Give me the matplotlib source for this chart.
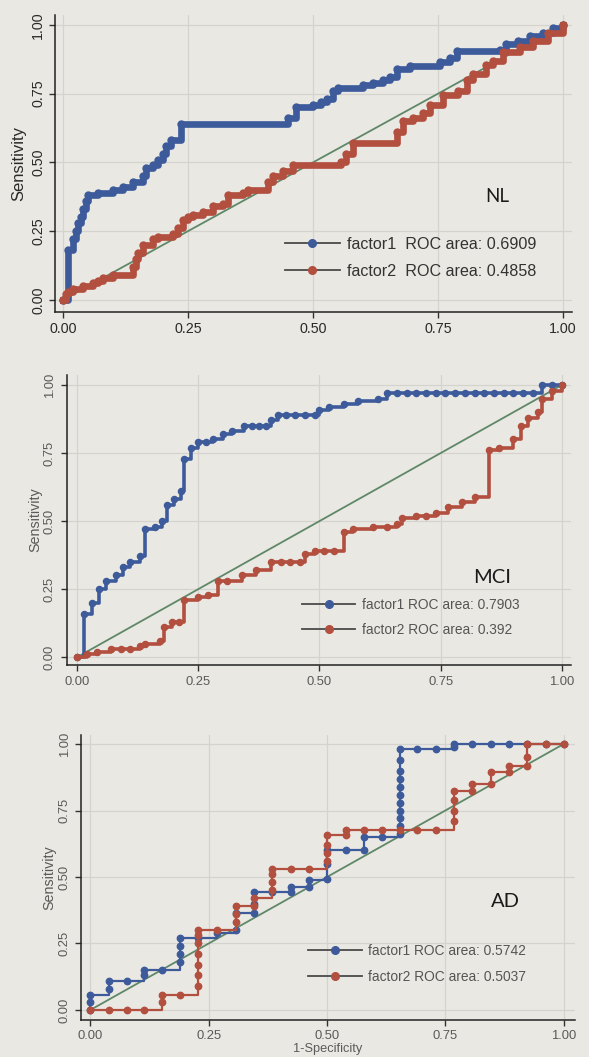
import matplotlib
matplotlib.use("Agg")
import matplotlib.pyplot as plt
from matplotlib.lines import Line2D

# ---------------- data ----------------
ticks = [0.0, 0.25, 0.5, 0.75, 1.0]
tick_labels = ["0.00", "0.25", "0.50", "0.75", "1.00"]

nl_f1_fpr = [0, 0.01, 0.02, 0.025, 0.03, 0.035, 0.04, 0.045, 0.05, 0.07, 0.10, 0.12, 0.14, 0.16, 0.165,
             0.18, 0.19, 0.20, 0.205, 0.215, 0.235, 0.45, 0.465, 0.50, 0.515, 0.527, 0.54, 0.55, 0.60,
             0.62, 0.64, 0.654, 0.667, 0.694, 0.754, 0.774, 0.787, 0.874, 0.887, 0.91, 0.934, 0.96, 0.98, 1.0]
nl_f1_tpr = [0, 0.18, 0.22, 0.25, 0.28, 0.30, 0.33, 0.36, 0.38, 0.39, 0.40, 0.41, 0.43, 0.45, 0.48,
             0.49, 0.51, 0.53, 0.56, 0.58, 0.64, 0.66, 0.70, 0.71, 0.72, 0.73, 0.76, 0.77, 0.78,
             0.79, 0.80, 0.81, 0.84, 0.85, 0.864, 0.88, 0.905, 0.91, 0.93, 0.94, 0.96, 0.97, 0.99, 1.0]

nl_f2_fpr = [0, 0.005, 0.01, 0.02, 0.04, 0.06, 0.07, 0.08, 0.10, 0.14, 0.145, 0.15, 0.16, 0.18, 0.19,
             0.22, 0.23, 0.24, 0.25, 0.26, 0.28, 0.30, 0.32, 0.33, 0.36, 0.37, 0.41, 0.42, 0.44, 0.46,
             0.555, 0.567, 0.58, 0.667, 0.68, 0.70, 0.72, 0.735, 0.76, 0.79, 0.807, 0.82, 0.847, 0.86,
             0.88, 0.913, 0.94, 0.97, 1.0]
nl_f2_tpr = [0, 0.02, 0.03, 0.04, 0.05, 0.06, 0.07, 0.08, 0.09, 0.12, 0.15, 0.17, 0.20, 0.22, 0.23,
             0.24, 0.26, 0.29, 0.30, 0.31, 0.32, 0.34, 0.35, 0.38, 0.39, 0.40, 0.43, 0.45, 0.47, 0.49,
             0.50, 0.53, 0.57, 0.61, 0.65, 0.66, 0.68, 0.71, 0.745, 0.76, 0.80, 0.82, 0.855, 0.87,
             0.90, 0.92, 0.94, 0.97, 1.0]

mci_f1_fpr = [0, 0.015, 0.03, 0.045, 0.06, 0.08, 0.095, 0.11, 0.13, 0.14, 0.16, 0.175, 0.185, 0.20,
              0.215, 0.22, 0.235, 0.25, 0.265, 0.28, 0.30, 0.32, 0.345, 0.36, 0.375, 0.39, 0.40, 0.415,
              0.43, 0.45, 0.47, 0.49, 0.50, 0.52, 0.55, 0.58, 0.62, 0.64, 0.66, 0.68, 0.70, 0.72,
              0.74, 0.76, 0.78, 0.80, 0.82, 0.84, 0.86, 0.88, 0.90, 0.92, 0.94, 0.96, 0.98, 1.0]
mci_f1_tpr = [0, 0.16, 0.20, 0.25, 0.28, 0.30, 0.33, 0.35, 0.37, 0.47, 0.48, 0.50, 0.56, 0.58,
              0.61, 0.73, 0.77, 0.79, 0.79, 0.80, 0.82, 0.83, 0.85, 0.85, 0.85, 0.85, 0.87, 0.89,
              0.89, 0.89, 0.89, 0.89, 0.91, 0.92, 0.93, 0.94, 0.95, 0.97, 0.97, 0.97, 0.97, 0.97,
              0.97, 0.97, 0.97, 0.97, 0.97, 0.97, 0.97, 0.97, 0.97, 0.97, 0.97, 1.0, 1.0, 1.0]

mci_f2_fpr = [0, 0.02, 0.04, 0.07, 0.09, 0.11, 0.13, 0.14, 0.17, 0.18, 0.195, 0.21, 0.22, 0.25, 0.27,
              0.29, 0.31, 0.34, 0.37, 0.40, 0.42, 0.44, 0.46, 0.47, 0.49, 0.51, 0.53, 0.55, 0.57,
              0.61, 0.64, 0.66, 0.67, 0.70, 0.72, 0.74, 0.765, 0.795, 0.82, 0.85, 0.87, 0.90, 0.915,
              0.93, 0.95, 0.96, 0.98, 1.0]
mci_f2_tpr = [0, 0.01, 0.02, 0.03, 0.03, 0.03, 0.04, 0.05, 0.06, 0.11, 0.13, 0.13, 0.21, 0.22, 0.23,
              0.28, 0.28, 0.30, 0.32, 0.35, 0.35, 0.35, 0.35, 0.38, 0.39, 0.39, 0.39, 0.46, 0.47,
              0.48, 0.48, 0.49, 0.51, 0.52, 0.52, 0.53, 0.55, 0.57, 0.59, 0.76, 0.77, 0.80, 0.85,
              0.88, 0.90, 0.95, 0.98, 1.0]

ad_f1_fpr = [0, 0, 0, 0.039, 0.039, 0.078, 0.113, 0.113, 0.151, 0.19, 0.19, 0.19, 0.19, 0.228, 0.268,
             0.307, 0.307, 0.345, 0.345, 0.345, 0.384, 0.423, 0.423, 0.461, 0.461, 0.50, 0.50, 0.50,
             0.539, 0.578, 0.578, 0.617, 0.655, 0.655, 0.655, 0.655, 0.655, 0.655, 0.655, 0.655,
             0.655, 0.655, 0.655, 0.69, 0.73, 0.768, 0.768, 0.807, 0.846, 0.884, 0.923, 0.962, 1.0]
ad_f1_tpr = [0, 0.03, 0.057, 0.08, 0.107, 0.107, 0.13, 0.151, 0.151, 0.18, 0.21, 0.24, 0.27, 0.27, 0.29,
             0.30, 0.363, 0.363, 0.40, 0.444, 0.444, 0.444, 0.464, 0.464, 0.487, 0.494, 0.55, 0.60,
             0.60, 0.60, 0.65, 0.65, 0.66, 0.69, 0.72, 0.75, 0.78, 0.81, 0.84, 0.87, 0.90, 0.94, 0.98,
             0.98, 0.98, 0.99, 1.0, 1.0, 1.0, 1.0, 1.0, 1.0, 1.0]

ad_f2_fpr = [0, 0.039, 0.078, 0.113, 0.152, 0.152, 0.19, 0.228, 0.228, 0.228, 0.228, 0.228, 0.228,
             0.228, 0.268, 0.307, 0.307, 0.307, 0.345, 0.345, 0.384, 0.384, 0.384, 0.384, 0.423, 0.461,
             0.50, 0.50, 0.50, 0.50, 0.539, 0.539, 0.578, 0.617, 0.655, 0.69, 0.73, 0.768, 0.768,
             0.768, 0.768, 0.807, 0.807, 0.846, 0.846, 0.884, 0.884, 0.923, 0.923, 0.923, 0.962, 1.0]
ad_f2_tpr = [0, 0, 0, 0, 0.03, 0.057, 0.057, 0.09, 0.13, 0.17, 0.21, 0.25, 0.28, 0.30, 0.30, 0.33,
             0.36, 0.39, 0.39, 0.42, 0.45, 0.48, 0.51, 0.53, 0.53, 0.53, 0.56, 0.59, 0.62, 0.657,
             0.657, 0.675, 0.675, 0.675, 0.675, 0.675, 0.675, 0.71, 0.75, 0.79, 0.825, 0.825, 0.85,
             0.85, 0.894, 0.894, 0.919, 0.919, 0.95, 1.0, 1.0, 1.0]

legend_f1 = ["factor1  ROC area: 0.6909", "factor1 ROC area: 0.7903", "factor1 ROC area: 0.5742"]
legend_f2 = ["factor2  ROC area: 0.4858", "factor2 ROC area: 0.392", "factor2 ROC area: 0.5037"]
panel_names = ["NL", "MCI", "AD"]

# ---------------- style ----------------
BG = "#eae8e3"
BLUE = "#3d5b9b"
RED = "#b24f3f"
DIAG = "#5e8868"
GRID = "#d5d3cd"
W, H = 589, 1057

fig = plt.figure(figsize=(W / 100, H / 100), dpi=100, facecolor=BG)

def px_axes(left, right, top, bottom):
    return [left / W, 1 - bottom / H, (right - left) / W, (bottom - top) / H]

panels = [
    dict(rect=px_axes(55, 572, 15, 312), xlim=(-0.016, 1.018), ylim=(-0.044, 1.036),
         f1=(nl_f1_fpr, nl_f1_tpr), f2=(nl_f2_fpr, nl_f2_tpr), lw=4.8, ms=5.0,
         tickfs=10.3, tickcol="#2a2a2a", labfs=12, labx=-0.071, legx=0.445, legy=0.183,
         legfs=11.6, legsp=0.75, hlen=3.4, name_xy=(0.868, 0.375), namefs=13.5, xlabel=False,
         pad=2.5, legcol="#333333"),
    dict(rect=px_axes(67, 571, 375, 665), xlim=(-0.021, 1.019), ylim=(-0.029, 1.037),
         f1=(mci_f1_fpr, mci_f1_tpr), f2=(mci_f2_fpr, mci_f2_tpr), lw=2.6, ms=4.4,
         tickfs=9.4, tickcol="#5a5a5a", labfs=10.3, labx=-0.063, legx=0.466, legy=0.164,
         legfs=9.9, legsp=0.85, hlen=3.9, name_xy=(0.856, 0.294), namefs=14.5, xlabel=False,
         pad=3.5, legcol="#555555"),
    dict(rect=px_axes(81, 575, 735, 1020), xlim=(-0.020, 1.024), ylim=(-0.038, 1.034),
         f1=(ad_f1_fpr, ad_f1_tpr), f2=(ad_f2_fpr, ad_f2_tpr), lw=1.6, ms=4.6,
         tickfs=9.4, tickcol="#5a5a5a", labfs=10.3, labx=-0.064, legx=0.46, legy=0.197,
         legfs=9.9, legsp=0.85, hlen=3.9, name_xy=(0.877, 0.406), namefs=14.5, xlabel=True,
         pad=3.0, legcol="#555555"),
]

for i, p in enumerate(panels):
    ax = fig.add_axes(p["rect"], facecolor=BG)
    ax.set_xlim(*p["xlim"])
    ax.set_ylim(*p["ylim"])
    for s in ("top", "right"):
        ax.spines[s].set_visible(False)
    for s in ("left", "bottom"):
        ax.spines[s].set_color("#222222")
        ax.spines[s].set_linewidth(1.1)
    ax.set_xticks(ticks)
    ax.set_xticklabels(tick_labels)
    ax.set_yticks(ticks)
    ax.set_yticklabels(tick_labels)
    ax.grid(True, color=GRID, linewidth=0.9)
    ax.set_axisbelow(True)
    ax.tick_params(axis="both", direction="out", length=4.5, width=1.0, color="#333333",
                   labelsize=p["tickfs"], labelcolor=p["tickcol"], pad=p["pad"])
    for lab in ax.get_xticklabels() + ax.get_yticklabels():
        lab.set_family(["Liberation Sans", "DejaVu Sans"])
    for lab in ax.get_yticklabels():
        lab.set_rotation(90)
        lab.set_va("center")

    # reference diagonal
    ax.plot([0, 1], [0, 1], color=DIAG, lw=1.3, zorder=2)
    # ROC curves
    x1, y1 = p["f1"]
    x2, y2 = p["f2"]
    ax.plot(x1, y1, drawstyle="steps-post", color=BLUE, lw=p["lw"], zorder=3)
    ax.plot(x1, y1, linestyle="none", marker="o", ms=p["ms"], color=BLUE, zorder=3)
    ax.plot(x2, y2, drawstyle="steps-post", color=RED, lw=p["lw"], zorder=3)
    ax.plot(x2, y2, linestyle="none", marker="o", ms=p["ms"], color=RED, zorder=3)

    ax.set_ylabel("Sensitivity", fontsize=p["labfs"], color=p["tickcol"],
                  family=["Liberation Sans", "DejaVu Sans"], va="center")
    ax.yaxis.set_label_coords(p["labx"], 0.5)
    if p["xlabel"]:
        ax.set_xlabel("1-Specificity", fontsize=9.2, color=p["tickcol"],
                      family=["Liberation Sans", "DejaVu Sans"], labelpad=0.5)

    ax.text(p["name_xy"][0], p["name_xy"][1], panel_names[i], fontsize=p["namefs"],
            family=["Lato", "DejaVu Sans"], color="#1a1a1a", ha="center", va="center")

    h1 = Line2D([0], [0], color="#4a4a4a", lw=1.3, marker="o", ms=5.5,
                markerfacecolor=BLUE, markeredgecolor=BLUE)
    h2 = Line2D([0], [0], color="#4a4a4a", lw=1.3, marker="o", ms=5.5,
                markerfacecolor=RED, markeredgecolor=RED)
    leg = ax.legend([h1, h2], [legend_f1[i], legend_f2[i]], loc="center left",
                    bbox_to_anchor=(p["legx"], p["legy"]), frameon=False, numpoints=1,
                    handlelength=p["hlen"], handletextpad=0.45, labelspacing=p["legsp"],
                    borderpad=0, borderaxespad=0,
                    prop={"family": ["Liberation Sans", "DejaVu Sans"], "size": p["legfs"]})
    for t in leg.get_texts():
        t.set_color(p["legcol"])

fig.savefig("out.png", dpi=100, facecolor=BG)
